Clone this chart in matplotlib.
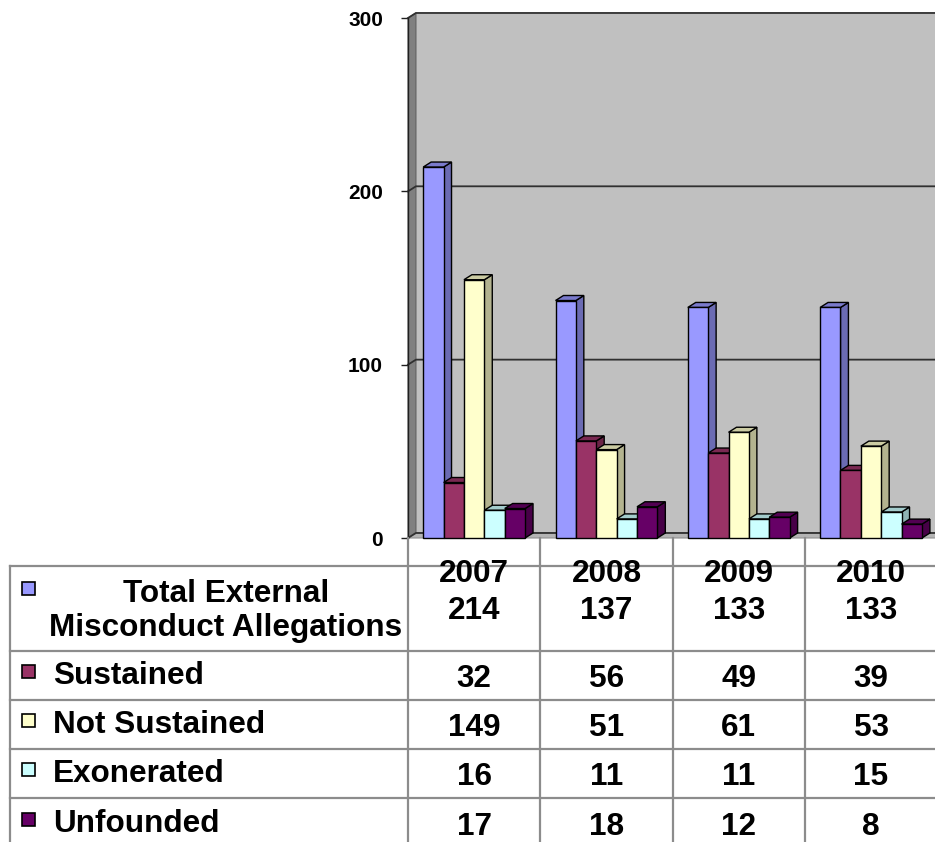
import numpy as np
import matplotlib
matplotlib.use("Agg")
import matplotlib.pyplot as plt
from matplotlib.patches import Polygon, Rectangle
from matplotlib.colors import to_rgb

plt.rcParams['font.family'] = ['Liberation Sans', 'DejaVu Sans']
plt.rcParams['font.weight'] = 'bold'

# data
years = ["2007", "2008", "2009", "2010"]
series = ["Total External\nMisconduct Allegations", "Sustained", "Not Sustained",
          "Exonerated", "Unfounded"]
total = [214, 137, 133, 133]
sustained = [32, 56, 49, 39]
not_sustained = [149, 51, 61, 53]
exonerated = [16, 11, 11, 15]
unfounded = [17, 18, 12, 8]
values = [total, sustained, not_sustained, exonerated, unfounded]
colors = ["#9999FF", "#993366", "#FFFFCC", "#CCFFFF", "#660066"]
yticks = [0, 100, 200, 300]


def shade(c, f):
    r, g, b = to_rgb(c)
    return (r * f, g * f, b * f)


W, H = 935, 842
fig = plt.figure(figsize=(W / 100, H / 100), dpi=100)

# chart area (front plane), pixels: x 408..937, y 538..18
ax = fig.add_axes([408 / W, (H - 538) / H, 529.2 / W, 520 / H])
ax.set_xlim(0, 4)
ax.set_ylim(0, 300)
dx, dy = 0.06, 2.9  # depth offset in data units
bw = 0.154          # bar width

# back wall, side wall and floor
ax.add_patch(Polygon([(dx, dy), (4 + dx, dy), (4 + dx, 300 + dy), (dx, 300 + dy)],
                     closed=True, fc="#C0C0C0", ec="none", zorder=0, clip_on=False))
ax.add_patch(Polygon([(0, 0), (dx, dy), (dx, 300 + dy), (0, 300)],
                     closed=True, fc="#808080", ec="#606060", lw=0.8, zorder=1, clip_on=False))
ax.add_patch(Polygon([(0, 0), (4, 0), (4 + dx, dy), (dx, dy)],
                     closed=True, fc="#B4B4B4", ec="#909090", lw=0.8, zorder=1, clip_on=False))
for v in yticks:
    ax.plot([0, dx, 4 + dx], [v, v + dy, v + dy], color="#303030", lw=1.3,
            zorder=2, clip_on=False)

# 3d bars
for i in range(len(years)):
    for j, vals in enumerate(values):
        v = vals[i]
        x0 = i + 0.5 - len(values) * bw / 2 + j * bw
        z = 10 + j
        ax.add_patch(Polygon([(x0 + bw, 0), (x0 + bw + dx, dy), (x0 + bw + dx, v + dy), (x0 + bw, v)],
                             closed=True, fc=shade(colors[j], 0.7), ec="black", lw=1,
                             zorder=z, clip_on=False))
        ax.add_patch(Polygon([(x0, v), (x0 + bw, v), (x0 + bw + dx, v + dy), (x0 + dx, v + dy)],
                             closed=True, fc=shade(colors[j], 0.8), ec="black", lw=1,
                             zorder=z, clip_on=False))
        ax.add_patch(Rectangle((x0, 0), bw, v, fc=colors[j], ec="black", lw=1,
                               zorder=z + 0.5, clip_on=False))

for s in ["top", "right", "bottom"]:
    ax.spines[s].set_visible(False)
ax.spines["left"].set_color("#202020")
ax.spines["left"].set_linewidth(1)
ax.set_xticks([])
ax.set_yticks(yticks)
ax.set_yticklabels([str(t) for t in yticks], fontsize=15, fontweight="bold")
ax.tick_params(axis="y", direction="out", length=5, width=1, pad=13, color="#202020")
ax.patch.set_visible(False)

# data table below, x shares category units, y in pixels from top
tab = fig.add_axes([408 / W, 0, 529.2 / W, 1])
tab.set_xlim(0, 4)
tab.set_ylim(H, 0)
tab.axis("off")
px = 4 / 529.2
left_x = -398 * px
grid = "#8C8C8C"
row_lines = [566, 651, 700, 749, 798]
for y in row_lines:
    tab.plot([left_x, 4.2], [y, y], color=grid, lw=1.6, clip_on=False)
for k in range(len(years) + 1):
    tab.plot([k, k], [538, H], color=grid, lw=1.6, clip_on=False)
tab.plot([left_x, left_x], [566, H], color=grid, lw=1.6, clip_on=False)

fs = 22.7
for i, yr in enumerate(years):
    tab.text(i + 0.5, 582, yr, ha="center", va="baseline", fontsize=fs, fontweight="bold")
row_base = [619, 687, 736, 785, 835]
for j, vals in enumerate(values):
    for i, v in enumerate(vals):
        tab.text(i + 0.5, row_base[j], str(v), ha="center", va="baseline",
                 fontsize=fs, fontweight="bold")

# legend keys and labels in first column
key_y = [588, 671, 720, 769, 819]
for j, name in enumerate(series):
    tab.add_patch(Rectangle((-386 * px, key_y[j] + 6.5), 13 * px, -13, fc=colors[j],
                            ec="black", lw=1.2, clip_on=False))
    if j == 0:
        l1, l2 = name.split("\n")
        tab.text(-182 * px, 602, l1, ha="center", va="baseline", fontsize=fs, fontweight="bold")
        tab.text(-182 * px, 636, l2, ha="center", va="baseline", fontsize=fs, fontweight="bold")
    else:
        tab.text(-355 * px, row_base[j] - 3, name, ha="left", va="baseline",
                 fontsize=fs, fontweight="bold")

fig.savefig("out.png", dpi=100)
